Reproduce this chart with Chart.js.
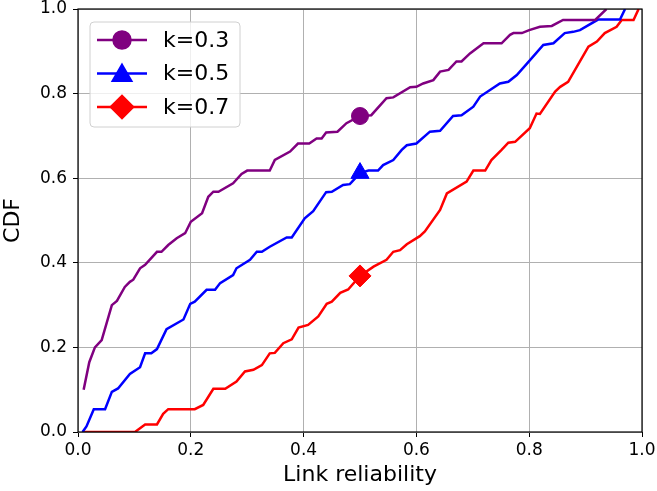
<!DOCTYPE html>
<html>
<head>
<meta charset="utf-8">
<script src="https://cdn.jsdelivr.net/npm/chart.js@4"></script>
<style>
  body { margin: 0; background: #fff; }
  #wrap { width: 657px; height: 491px; position: relative; }
</style>
</head>
<body>
<div id="wrap"><canvas id="chart"></canvas></div>
<script>
// series
const labels = ['k=0.3', 'k=0.5', 'k=0.7']

const k03X = [0.01, 0.02, 0.03, 0.042, 0.06, 0.069, 0.083, 0.092, 0.098, 0.11, 0.119, 0.14, 0.148, 0.16, 0.175, 0.19, 0.2, 0.22, 0.231, 0.24, 0.249, 0.275, 0.29, 0.3, 0.34, 0.349, 0.376, 0.39, 0.41, 0.423, 0.432, 0.44, 0.46, 0.476, 0.5, 0.52, 0.547, 0.559, 0.589, 0.6, 0.612, 0.63, 0.642, 0.657, 0.671, 0.68, 0.695, 0.719, 0.751, 0.766, 0.772, 0.787, 0.8, 0.819, 0.84, 0.86, 0.917, 0.937]
const k03Y = [0.10, 0.165, 0.20, 0.217, 0.30, 0.31, 0.343, 0.355, 0.36, 0.387, 0.395, 0.426, 0.426, 0.442, 0.458, 0.47, 0.497, 0.517, 0.556, 0.568, 0.568, 0.588, 0.61, 0.618, 0.618, 0.643, 0.663, 0.682, 0.682, 0.694, 0.694, 0.708, 0.71, 0.73, 0.747, 0.749, 0.789, 0.791, 0.815, 0.816, 0.824, 0.832, 0.852, 0.856, 0.876, 0.876, 0.895, 0.919, 0.919, 0.939, 0.943, 0.943, 0.95, 0.958, 0.96, 0.974, 0.974, 1.0]

const k05X = [0.008, 0.015, 0.028, 0.048, 0.06, 0.071, 0.092, 0.11, 0.119, 0.13, 0.14, 0.157, 0.187, 0.199, 0.207, 0.228, 0.243, 0.252, 0.275, 0.281, 0.305, 0.317, 0.326, 0.34, 0.37, 0.379, 0.402, 0.417, 0.44, 0.45, 0.47, 0.482, 0.5, 0.515, 0.532, 0.541, 0.559, 0.574, 0.583, 0.6, 0.624, 0.642, 0.665, 0.68, 0.701, 0.713, 0.748, 0.763, 0.778, 0.796, 0.825, 0.843, 0.863, 0.878, 0.89, 0.922, 0.961, 0.97]
const k05Y = [0, 0.013, 0.054, 0.054, 0.095, 0.103, 0.137, 0.153, 0.186, 0.186, 0.196, 0.243, 0.266, 0.303, 0.308, 0.336, 0.336, 0.352, 0.371, 0.387, 0.407, 0.426, 0.426, 0.438, 0.46, 0.46, 0.505, 0.522, 0.567, 0.568, 0.584, 0.586, 0.612, 0.618, 0.618, 0.631, 0.643, 0.667, 0.678, 0.682, 0.71, 0.712, 0.747, 0.749, 0.769, 0.793, 0.824, 0.828, 0.844, 0.871, 0.915, 0.919, 0.943, 0.946, 0.95, 0.975, 0.975, 1.0]

const k07X = [0.008, 0.101, 0.119, 0.14, 0.151, 0.16, 0.207, 0.222, 0.24, 0.261, 0.281, 0.296, 0.311, 0.326, 0.34, 0.349, 0.364, 0.379, 0.391, 0.408, 0.426, 0.441, 0.45, 0.465, 0.479, 0.5, 0.524, 0.547, 0.559, 0.571, 0.583, 0.606, 0.615, 0.642, 0.654, 0.689, 0.701, 0.722, 0.733, 0.751, 0.763, 0.775, 0.801, 0.813, 0.819, 0.846, 0.855, 0.869, 0.905, 0.92, 0.934, 0.955, 0.964, 0.985, 0.994]
const k07Y = [0, 0, 0.018, 0.018, 0.043, 0.054, 0.054, 0.064, 0.102, 0.102, 0.119, 0.143, 0.147, 0.158, 0.186, 0.187, 0.21, 0.219, 0.247, 0.253, 0.273, 0.303, 0.308, 0.329, 0.337, 0.369, 0.391, 0.407, 0.426, 0.43, 0.444, 0.463, 0.474, 0.525, 0.564, 0.592, 0.618, 0.618, 0.643, 0.667, 0.684, 0.686, 0.718, 0.753, 0.752, 0.805, 0.816, 0.828, 0.911, 0.923, 0.943, 0.958, 0.974, 0.974, 1.0]

const markAt = 0.5  // only one marker per curve, at this x
const ticks = [0, 0.2, 0.4, 0.6, 0.8, 1.0]

const colors = ['#800080', '#0000ff', '#ff0000']
const styles = ['circle', 'triangle', 'rectRot']
const sizes = [8.5, 10.5, 11]

function pts (xs, ys) {
  return xs.map((x, i) => ({ x: x, y: ys[i] }))
}

const series = [pts(k03X, k03Y), pts(k05X, k05Y), pts(k07X, k07Y)]

Chart.defaults.font.family = 'DejaVu Sans'
Chart.defaults.color = '#000'

// matplotlib-ish legend with line + marker, drawn inside the axes
const boxLegend = {
  id: 'boxLegend',
  afterDraw (chart) {
    const ctx = chart.ctx
    const x0 = 90, y0 = 22, w = 150, h = 105
    ctx.save()
    ctx.beginPath()
    ctx.roundRect(x0, y0, w, h, 4)
    ctx.fillStyle = 'rgba(255,255,255,0.8)'
    ctx.fill()
    ctx.strokeStyle = '#d0d0d0'
    ctx.lineWidth = 1
    ctx.stroke()
    chart.data.datasets.forEach((ds, i) => {
      const y = 40 + i * 33.5
      ctx.beginPath()
      ctx.moveTo(97, y)
      ctx.lineTo(147, y)
      ctx.strokeStyle = ds.borderColor
      ctx.lineWidth = 2.5
      ctx.stroke()
      ctx.fillStyle = ds.borderColor
      ctx.strokeStyle = ds.borderColor
      Chart.helpers.drawPoint(ctx, { pointStyle: styles[i], radius: sizes[i], rotation: 0, borderWidth: 1 }, 122, i === 1 ? y + 2 : y)
      ctx.fillStyle = '#000'
      ctx.font = '22px "DejaVu Sans"'
      ctx.textBaseline = 'middle'
      ctx.fillText(ds.label, 163, y + 1)
    })
    ctx.restore()
  }
}

// full black frame around the plot area
const frame = {
  id: 'frame',
  afterDatasetsDraw (chart) {
    const a = chart.chartArea
    const ctx = chart.ctx
    ctx.save()
    ctx.strokeStyle = '#000'
    ctx.lineWidth = 1.2
    ctx.strokeRect(a.left, a.top, a.right - a.left, a.bottom - a.top)
    ctx.restore()
  }
}

new Chart(document.getElementById('chart'), {
  type: 'line',
  data: {
    datasets: series.map((d, i) => ({
      label: labels[i],
      data: d,
      borderColor: colors[i],
      backgroundColor: colors[i],
      borderWidth: 2.5,
      tension: 0,
      pointStyle: styles[i],
      pointRadius: (c) => (c.raw && c.raw.x === markAt ? sizes[i] : 0),
      pointHoverRadius: 0,
      pointBorderWidth: 1
    }))
  },
  options: {
    responsive: true,
    maintainAspectRatio: false,
    animation: false,
    layout: { padding: { top: 9, right: 15, left: 0, bottom: 0 } },
    plugins: {
      legend: { display: false },
      tooltip: { enabled: false }
    },
    scales: {
      x: {
        type: 'linear',
        min: 0,
        max: 1,
        afterBuildTicks: (s) => { s.ticks = ticks.map(v => ({ value: v })) },
        afterFit: (s) => { s.height = 59; s.paddingLeft = 0; s.paddingRight = 0 },
        ticks: { font: { size: 17 }, padding: 3, callback: (v) => v.toFixed(1) },
        grid: { color: '#b0b0b0', lineWidth: 1, tickColor: '#000', tickLength: 5 },
        border: { display: false },
        title: { display: true, text: 'Link reliability', font: { size: 22 }, padding: { top: 0, bottom: 3 } }
      },
      y: {
        type: 'linear',
        min: 0,
        max: 1,
        afterBuildTicks: (s) => { s.ticks = ticks.map(v => ({ value: v })) },
        afterFit: (s) => { s.width = 78; s.paddingTop = 0; s.paddingBottom = 0 },
        ticks: { font: { size: 17 }, padding: 6, callback: (v) => v.toFixed(1) },
        grid: { color: '#b0b0b0', lineWidth: 1, tickColor: '#000', tickLength: 5 },
        border: { display: false },
        title: { display: true, text: 'CDF', font: { size: 22 }, padding: { top: 0, bottom: 0 } }
      }
    }
  },
  plugins: [frame, boxLegend]
})
</script>
</body>
</html>
